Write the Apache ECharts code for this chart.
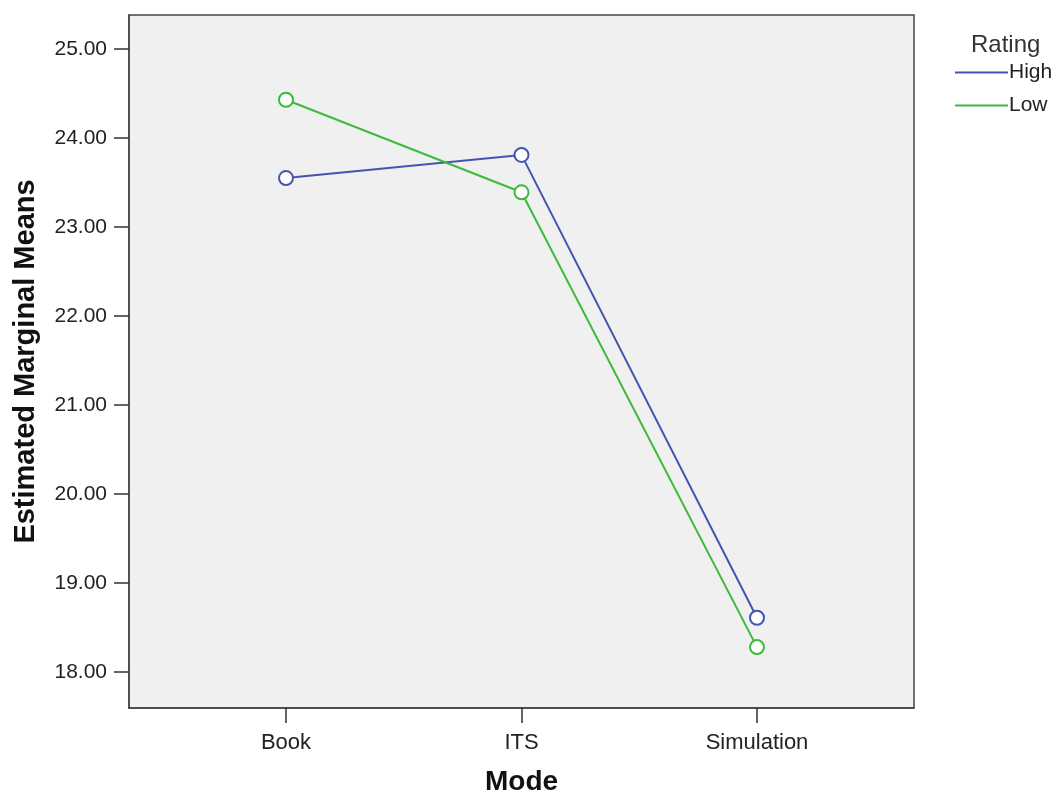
<!DOCTYPE html>
<html>
<head>
<meta charset="utf-8">
<script src="https://cdn.jsdelivr.net/npm/echarts@6/dist/echarts.min.js"></script>
<style>html,body{margin:0;padding:0;background:#fff}#c{width:1057px;height:794px}</style>
</head>
<body>
<div id="c"></div>
<script>
const categories = ['Book', 'ITS', 'Simulation'];
const highValues = [23.55, 23.81, 18.61];
const lowValues = [24.43, 23.39, 18.28];
const yTicks = [18, 19, 20, 21, 22, 23, 24, 25];
const seriesNames = ['High', 'Low'];
const legendTitle = 'Rating';

const chart = echarts.init(document.getElementById('c'));
const font = '"Liberation Sans", Arial, sans-serif';
const toPts = arr => arr.map((v, i) => [i, v]);
chart.setOption({
  animation: false,
  textStyle: { fontFamily: font },
  title: {
    text: legendTitle, left: 966, top: 28,
    textStyle: { fontFamily: font, fontSize: 24, fontWeight: 'normal', color: '#333' }
  },
  legend: {
    orient: 'vertical', left: 950, top: 57, itemGap: 12,
    itemWidth: 53, itemHeight: 2, icon: 'rect',
    data: seriesNames,
    textStyle: { fontFamily: font, fontSize: 21, color: '#222', padding: [0, 0, 0, -4] }
  },
  grid: {
    left: 129, top: 15, right: 143, bottom: 86,
    outerBoundsMode: 'none', containLabel: false,
    show: true, backgroundColor: '#f0f0f0', borderColor: '#444', borderWidth: 1.5
  },
  xAxis: {
    type: 'value', min: -2 / 3, max: 8 / 3,
    name: 'Mode', nameLocation: 'middle', nameGap: 60,
    nameTextStyle: { fontFamily: font, fontSize: 28, fontWeight: 'bold', color: '#111' },
    axisLine: { show: true, onZero: false, lineStyle: { color: '#444', width: 1.5 } },
    axisTick: { show: true, length: 15, customValues: [0, 1, 2], lineStyle: { color: '#333', width: 1.5 } },
    axisLabel: {
      customValues: [0, 1, 2], margin: 24,
      formatter: v => categories[Math.round(v)] || '',
      fontFamily: font, fontSize: 22, color: '#222'
    },
    splitLine: { show: false }
  },
  yAxis: {
    type: 'value', min: 17.596, max: 25.382,
    name: 'Estimated Marginal Means', nameLocation: 'middle', nameGap: 89,
    nameTextStyle: { fontFamily: font, fontSize: 29, fontWeight: 'bold', color: '#111' },
    axisLine: { show: true, onZero: false, lineStyle: { color: '#444', width: 1.5 } },
    axisTick: { show: true, length: 15, customValues: yTicks, lineStyle: { color: '#333', width: 1.5 } },
    axisLabel: {
      customValues: yTicks, margin: 22,
      formatter: v => v.toFixed(2),
      fontFamily: font, fontSize: 21, color: '#222'
    },
    splitLine: { show: false }
  },
  series: [
    {
      name: seriesNames[0], type: 'line', data: toPts(highValues),
      symbol: 'emptyCircle', symbolSize: 14,
      lineStyle: { color: '#4455b0', width: 2 },
      itemStyle: { color: '#4455b0', borderWidth: 2 }
    },
    {
      name: seriesNames[1], type: 'line', data: toPts(lowValues),
      symbol: 'emptyCircle', symbolSize: 14,
      lineStyle: { color: '#3cba3c', width: 2 },
      itemStyle: { color: '#3cba3c', borderWidth: 2 }
    }
  ]
});
</script>
</body>
</html>
